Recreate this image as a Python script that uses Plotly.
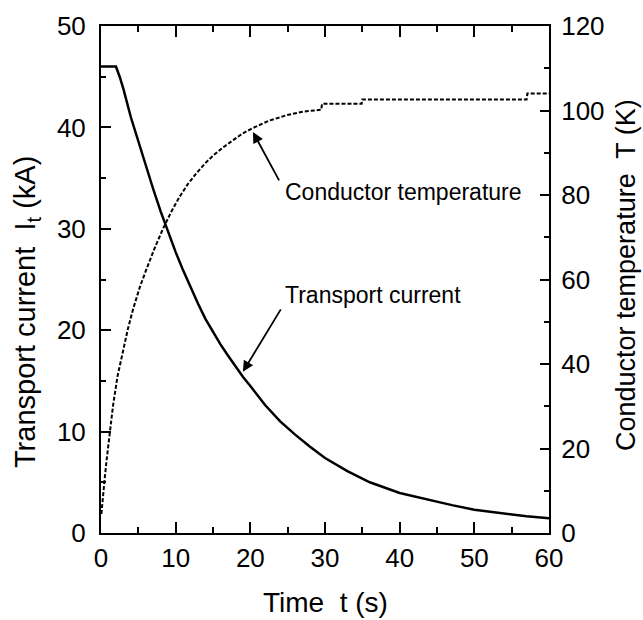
import plotly.graph_objects as go

# ---- data ----
time_current = [0, 2, 2.5, 3, 4, 5, 6, 7, 8, 9, 10, 11, 12, 13, 14, 15, 16, 17, 18, 19, 20,
                22, 24, 26, 28, 30, 33, 36, 40, 44, 47, 50, 54, 57, 60]
current_kA = [46, 46, 45.0, 43.8, 41.0, 38.6, 36.2, 33.9, 31.7, 29.6, 27.7, 25.9, 24.2, 22.6,
              21.1, 19.8, 18.6, 17.5, 16.4, 15.4, 14.5, 12.6, 11.0, 9.7, 8.5, 7.4, 6.1, 5.0,
              3.95, 3.25, 2.75, 2.3, 1.9, 1.65, 1.45]

time_temp = [0.05, 0.2, 0.5, 0.8, 1.2, 1.6, 2.2, 2.9, 3.6, 4.3, 5.2, 6.1, 7.2, 8.3, 9.4, 10.5,
             11.6, 12.8, 14.0, 15.0, 16.3, 17.7, 19.0, 20.4, 22.5, 24.9, 27.0, 29.5, 29.6,
             34.9, 35.0, 57.0, 57.1, 60]
temp_K = [4.5, 8, 13, 18, 24.5, 30, 37, 43, 48.3, 53, 58.2, 62.5, 67.5, 72, 76, 79.5,
          82.5, 85.2, 87.6, 89.3, 91.2, 93, 94.6, 95.9, 97.6, 98.9, 99.7, 100.2, 101.6,
          101.6, 102.6, 102.6, 104.0, 104.0]

x_ticks = [0, 10, 20, 30, 40, 50, 60]
y_ticks = [0, 10, 20, 30, 40, 50]
y2_ticks = [0, 20, 40, 60, 80, 100, 120]

FONT = "Liberation Sans, Arial, sans-serif"

fig = go.Figure()
fig.add_trace(go.Scatter(x=time_current, y=current_kA, mode="lines",
                         line=dict(color="black", width=2.5), yaxis="y"))
fig.add_trace(go.Scatter(x=time_temp, y=temp_K, mode="lines",
                         line=dict(color="black", width=2, dash="4px,2px"), yaxis="y2"))

axis_common = dict(showline=True, linecolor="black", linewidth=2, ticks="inside",
                   tickcolor="black", tickwidth=2, showgrid=False, zeroline=False,
                   tickfont=dict(family=FONT, size=26, color="black"))

fig.update_layout(
    width=643, height=620,
    margin=dict(l=101, r=94, t=26, b=87),
    paper_bgcolor="white", plot_bgcolor="white",
    showlegend=False,
    xaxis=dict(range=[0, 60], tickvals=x_ticks, ticklen=11, mirror="ticks",
               minor=dict(dtick=5, ticklen=6, ticks="inside", tickcolor="black", tickwidth=2),
               ticklabelstandoff=1, **axis_common),
    yaxis=dict(range=[0, 50], tickvals=y_ticks, ticklen=10,
               minor=dict(dtick=5, ticklen=5, ticks="inside", tickcolor="black", tickwidth=2),
               ticklabelstandoff=8, **axis_common),
    yaxis2=dict(range=[0, 120], tickvals=y2_ticks, ticklen=9, overlaying="y", side="right",
                minor=dict(dtick=10, ticklen=5, ticks="inside", tickcolor="black", tickwidth=2),
                ticklabelstandoff=5, **axis_common),
)

# axis titles as annotations
fig.add_annotation(text="Time  t (s)", xref="paper", yref="paper", x=0.502, y=-0.138,
                   showarrow=False, xanchor="center", yanchor="middle",
                   font=dict(family=FONT, size=28, color="black"))
fig.add_annotation(text="Transport current  I<sub>t</sub> (kA)", xref="paper", yref="paper",
                   x=-0.165, y=0.436, textangle=-90, showarrow=False,
                   xanchor="center", yanchor="middle",
                   font=dict(family=FONT, size=29, color="black"))
fig.add_annotation(text="Conductor temperature  T (K)", xref="paper", yref="paper",
                   x=1.172, y=0.509, textangle=-90, showarrow=False,
                   xanchor="center", yanchor="middle",
                   font=dict(family=FONT, size=27, color="black"))

# curve labels
fig.add_annotation(text="Conductor temperature", x=24.4, y=80.7, xref="x", yref="y2",
                   showarrow=False, xanchor="left", yanchor="middle",
                   font=dict(family=FONT, size=23, color="black"))
fig.add_annotation(text="", x=20.35, y=94.9, ax=23.96, ay=83.1, xref="x", yref="y2",
                   axref="x", ayref="y2", showarrow=True, arrowhead=2, arrowsize=1.2,
                   arrowwidth=1.8, arrowcolor="black")
fig.add_annotation(text="Transport current", x=24.4, y=23.5, xref="x", yref="y",
                   showarrow=False, xanchor="left", yanchor="middle",
                   font=dict(family=FONT, size=23, color="black"))
fig.add_annotation(text="", x=19.0, y=15.9, ax=24.2, ay=22.2, xref="x", yref="y",
                   axref="x", ayref="y", showarrow=True, arrowhead=2, arrowsize=1.2,
                   arrowwidth=1.8, arrowcolor="black")

fig.write_html("out.html")
